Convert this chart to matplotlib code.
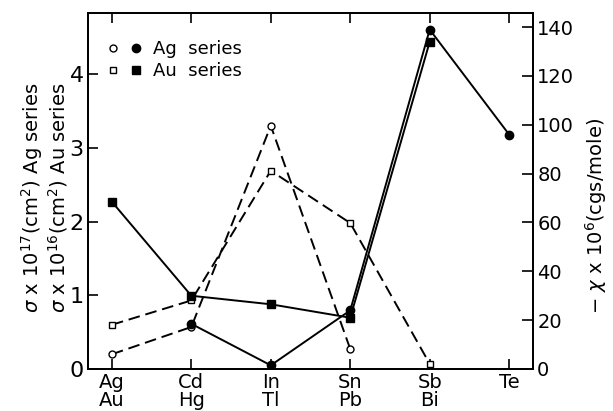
import matplotlib
matplotlib.use("Agg")
import matplotlib.pyplot as plt
from matplotlib.legend_handler import HandlerTuple
from matplotlib.lines import Line2D

plt.rcParams['font.family'] = ['DejaVu Sans']

# categories (two rows of element names)
top_names = ["Ag", "Cd", "In", "Sn", "Sb", "Te"]
bot_names = ["Au", "Hg", "Tl", "Pb", "Bi", ""]
x_labels = [f"{a}\n{b}" for a, b in zip(top_names, bot_names)]

# sigma (left axis)
ag_sigma_x = [0, 1, 2, 3]
ag_sigma = [0.20, 0.57, 3.30, 0.27]
au_sigma_x = [0, 1, 2, 3, 4]
au_sigma = [0.60, 0.93, 2.69, 1.98, 0.07]

# -chi x 1e6 (right axis)
ag_chi_x = [1, 2, 3, 4, 5]
ag_chi = [18.5, 1.5, 24.0, 139.0, 96.0]
au_chi_x = [0, 1, 2, 3, 4]
au_chi = [68.5, 30.0, 26.5, 21.0, 134.0]

left_ticks = [0, 1, 2, 3, 4]
right_ticks = [0, 20, 40, 60, 80, 100, 120, 140]

fig = plt.figure(figsize=(6.13, 4.11), dpi=100)
ax = fig.add_axes([0.1436, 0.1022, 0.7259, 0.8662])
ax2 = ax.twinx()

lw = 1.4
dash = (6, 3)
ax.plot(ag_sigma_x, ag_sigma, color='black', lw=lw, dashes=dash,
        marker='o', ms=5, mfc='white', mec='black', mew=1.0, zorder=3)
ax.plot(au_sigma_x, au_sigma, color='black', lw=lw, dashes=dash,
        marker='s', ms=5, mfc='white', mec='black', mew=1.0, zorder=3)
ax2.plot(ag_chi_x, ag_chi, color='black', lw=lw,
         marker='o', ms=6, mfc='black', mec='black', zorder=3)
ax2.plot(au_chi_x, au_chi, color='black', lw=lw,
         marker='s', ms=5.5, mfc='black', mec='black', zorder=3)

ax.set_xlim(-0.3, 5.3)
ax.set_ylim(0, 4.83)
ax2.set_ylim(0, 145.8)

ax.set_xticks(range(len(x_labels)))
ax.set_xticklabels(x_labels, fontsize=14, linespacing=0.95)
ax.set_yticks(left_ticks)
ax.set_yticklabels([str(t) for t in left_ticks], fontsize=16)
ax2.set_yticks(right_ticks)
ax2.set_yticklabels([str(t) for t in right_ticks], fontsize=14)

ax.tick_params(axis='x', direction='in', length=7, width=1.2, top=True, pad=3)
ax.tick_params(axis='y', direction='in', length=7, width=1.2, pad=3)
ax2.tick_params(axis='y', direction='in', length=8, width=1.2, pad=3)
for a in (ax, ax2):
    for s in a.spines.values():
        s.set_linewidth(1.3)

# legend
h_o = Line2D([], [], ls='none', marker='o', ms=5, mfc='white', mec='black')
h_f = Line2D([], [], ls='none', marker='o', ms=6, mfc='black', mec='black')
h_so = Line2D([], [], ls='none', marker='s', ms=5, mfc='white', mec='black')
h_sf = Line2D([], [], ls='none', marker='s', ms=5.5, mfc='black', mec='black')
ax.legend([(h_o, h_f), (h_so, h_sf)], ["Ag  series", "Au  series"],
          handler_map={tuple: HandlerTuple(ndivide=None, pad=0.6)},
          loc='upper left', bbox_to_anchor=(0.005, 0.97), frameon=False,
          fontsize=13, handlelength=2.0, handletextpad=0.6, labelspacing=0.25)

fig.text(0.052, 0.52, r"$\sigma$ x 10$^{17}$(cm$^2$) Ag series", rotation=90,
         ha='center', va='center', fontsize=14)
fig.text(0.095, 0.52, r"$\sigma$ x 10$^{16}$(cm$^2$) Au series", rotation=90,
         ha='center', va='center', fontsize=14)
fig.text(0.972, 0.475, r"$-$ $\chi$ x 10$^{6}$(cgs/mole)", rotation=90,
         ha='center', va='center', fontsize=14)

fig.savefig("out.png", dpi=100)
